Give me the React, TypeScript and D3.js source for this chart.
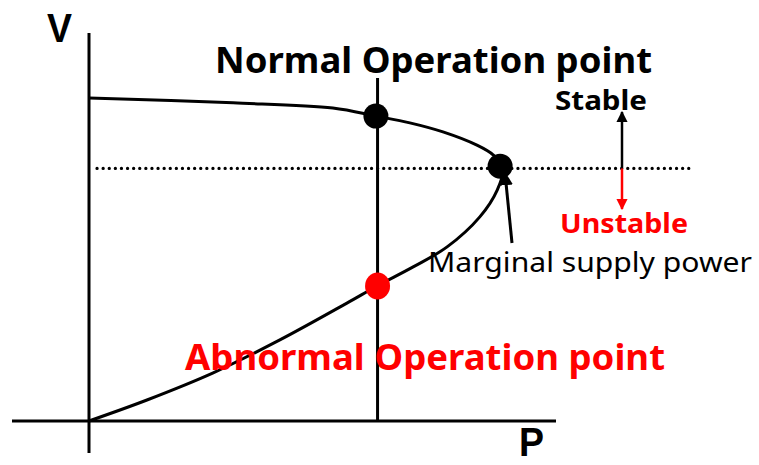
import { useEffect, useRef } from 'react'
import * as d3 from 'd3'

// PV (nose) curve: P and V normalised (nose at P = 1)
const curveP = [0, 0.348, 0.589, 0.693, 0.775, 0.855, 0.937, 0.976, 1.0, 0.986, 0.944, 0.865, 0.783, 0.696, 0.623, 0.461, 0.300, 0.140, 0]
const curveV = [1.0, 0.985, 0.969, 0.944, 0.923, 0.895, 0.854, 0.824, 0.783, 0.715, 0.632, 0.539, 0.477, 0.418, 0.365, 0.251, 0.149, 0.065, 0]

// operating points
const pointNames = ['normal', 'marginal', 'abnormal']
const pointP = [0.693, 0.993, 0.697]
const pointV = [0.944, 0.789, 0.418]
const pointColors = ['#000', '#000', '#ff0000']

// level of the dotted stability limit
const limitV = 0.782

const labels = {
  v: 'V',
  p: 'P',
  normal: 'Normal Operation point',
  abnormal: 'Abnormal Operation point',
  stable: 'Stable',
  unstable: 'Unstable',
  marginal: 'Marginal supply power'
}

export default function App() {
  const canvas = useRef(null)

  useEffect(() => {
    draw()
  }, [])

  const draw = () => {
    const width = 759
    const height = 465

    const root = d3.select(canvas.current)
    root.selectAll('*').remove()

    const svg = root.append('svg')
      .attr('width', width)
      .attr('height', height)
      .style('position', 'absolute')
      .style('left', 0)
      .style('top', 0)
      .style('background', '#fff')

    const x = d3.scaleLinear().domain([0, 1]).range([89, 503])
    const y = d3.scaleLinear().domain([0, 1]).range([421, 98])

    const defs = svg.append('defs')
    const marker = (id, color) => {
      defs.append('marker')
        .attr('id', id)
        .attr('viewBox', '0 0 10 10')
        .attr('refX', 9)
        .attr('refY', 5)
        .attr('markerWidth', 4.5)
        .attr('markerHeight', 4.5)
        .attr('orient', 'auto')
        .append('path')
        .attr('d', 'M0,0 L10,5 L0,10 z')
        .attr('fill', color)
    }
    marker('arrowBlack', '#000')
    marker('arrowRed', '#ff0000')

    // axes (plain lines, no ticks)
    svg.append('line')
      .attr('x1', 12).attr('x2', 556)
      .attr('y1', y(0)).attr('y2', y(0))
      .attr('stroke', '#000').attr('stroke-width', 3)
    svg.append('line')
      .attr('x1', x(0)).attr('x2', x(0))
      .attr('y1', 33).attr('y2', 453)
      .attr('stroke', '#000').attr('stroke-width', 3)

    // vertical load line through the two operating points
    svg.append('line')
      .attr('x1', x(pointP[2])).attr('x2', x(pointP[2]))
      .attr('y1', 78).attr('y2', y(0))
      .attr('stroke', '#000').attr('stroke-width', 3)

    // dotted limit line at the nose
    svg.append('line')
      .attr('x1', 97).attr('x2', 690)
      .attr('y1', y(limitV)).attr('y2', y(limitV))
      .attr('stroke', '#000').attr('stroke-width', 3.2)
      .attr('stroke-linecap', 'round')
      .attr('stroke-dasharray', '0.1 6')

    // PV curve
    const line = d3.line()
      .x(d => x(d[0]))
      .y(d => y(d[1]))
      .curve(d3.curveCatmullRom.alpha(0.5))
    svg.append('path')
      .datum(curveP.map((p, i) => [p, curveV[i]]))
      .attr('d', line)
      .attr('fill', 'none')
      .attr('stroke', '#000')
      .attr('stroke-width', 3)

    // marginal supply power pointer
    svg.append('line')
      .attr('x1', 512).attr('x2', 505)
      .attr('y1', 243).attr('y2', 173)
      .attr('stroke', '#000').attr('stroke-width', 3)
      .attr('marker-end', 'url(#arrowBlack)')

    // operating points
    svg.selectAll('ellipse.pt')
      .data(pointNames)
      .enter()
      .append('ellipse')
      .attr('class', 'pt')
      .attr('cx', (d, i) => x(pointP[i]))
      .attr('cy', (d, i) => y(pointV[i]))
      .attr('rx', 12.5)
      .attr('ry', (d, i) => (i === 2 ? 13.5 : 12.5))
      .attr('fill', (d, i) => pointColors[i])

    // stable / unstable arrows
    svg.append('line')
      .attr('x1', 622).attr('x2', 622)
      .attr('y1', y(limitV)).attr('y2', 112)
      .attr('stroke', '#000').attr('stroke-width', 2.5)
      .attr('marker-end', 'url(#arrowBlack)')
    svg.append('line')
      .attr('x1', 622).attr('x2', 622)
      .attr('y1', y(limitV)).attr('y2', 209)
      .attr('stroke', '#ff0000').attr('stroke-width', 2.5)
      .attr('marker-end', 'url(#arrowRed)')

    const text = (str, tx, ty, size, weight, color, len, family = '"Noto Sans", "DejaVu Sans", sans-serif') => {
      const t = svg.append('text')
        .attr('x', tx)
        .attr('y', ty)
        .attr('font-family', family)
        .attr('font-size', size)
        .attr('font-weight', weight)
        .attr('fill', color)
        .text(str)
      if (len) {
        t.attr('textLength', len).attr('lengthAdjust', 'spacingAndGlyphs')
      }
      return t
    }

    const lib = '"Liberation Sans", Arial, sans-serif'
    text(labels.v, 47, 42, 40, 'bold', '#000', 25, lib)
    text(labels.p, 519, 456, 40, 'bold', '#000', 25, lib)
    text(labels.normal, 215, 73, 36, 'bold', '#000', 437)
    text(labels.abnormal, 185, 370, 35, 'bold', '#ff0000', 480)
    text(labels.stable, 555, 110, 27, 'bold', '#000', 92)
    text(labels.unstable, 560, 233, 26, 'bold', '#ff0000', 128)
    text(labels.marginal, 428, 272, 28, 'normal', '#000', 324)
  }

  return (
    <div className='sandbox'>
      <div className='canvas' ref={canvas}></div>
    </div>
  )
}
